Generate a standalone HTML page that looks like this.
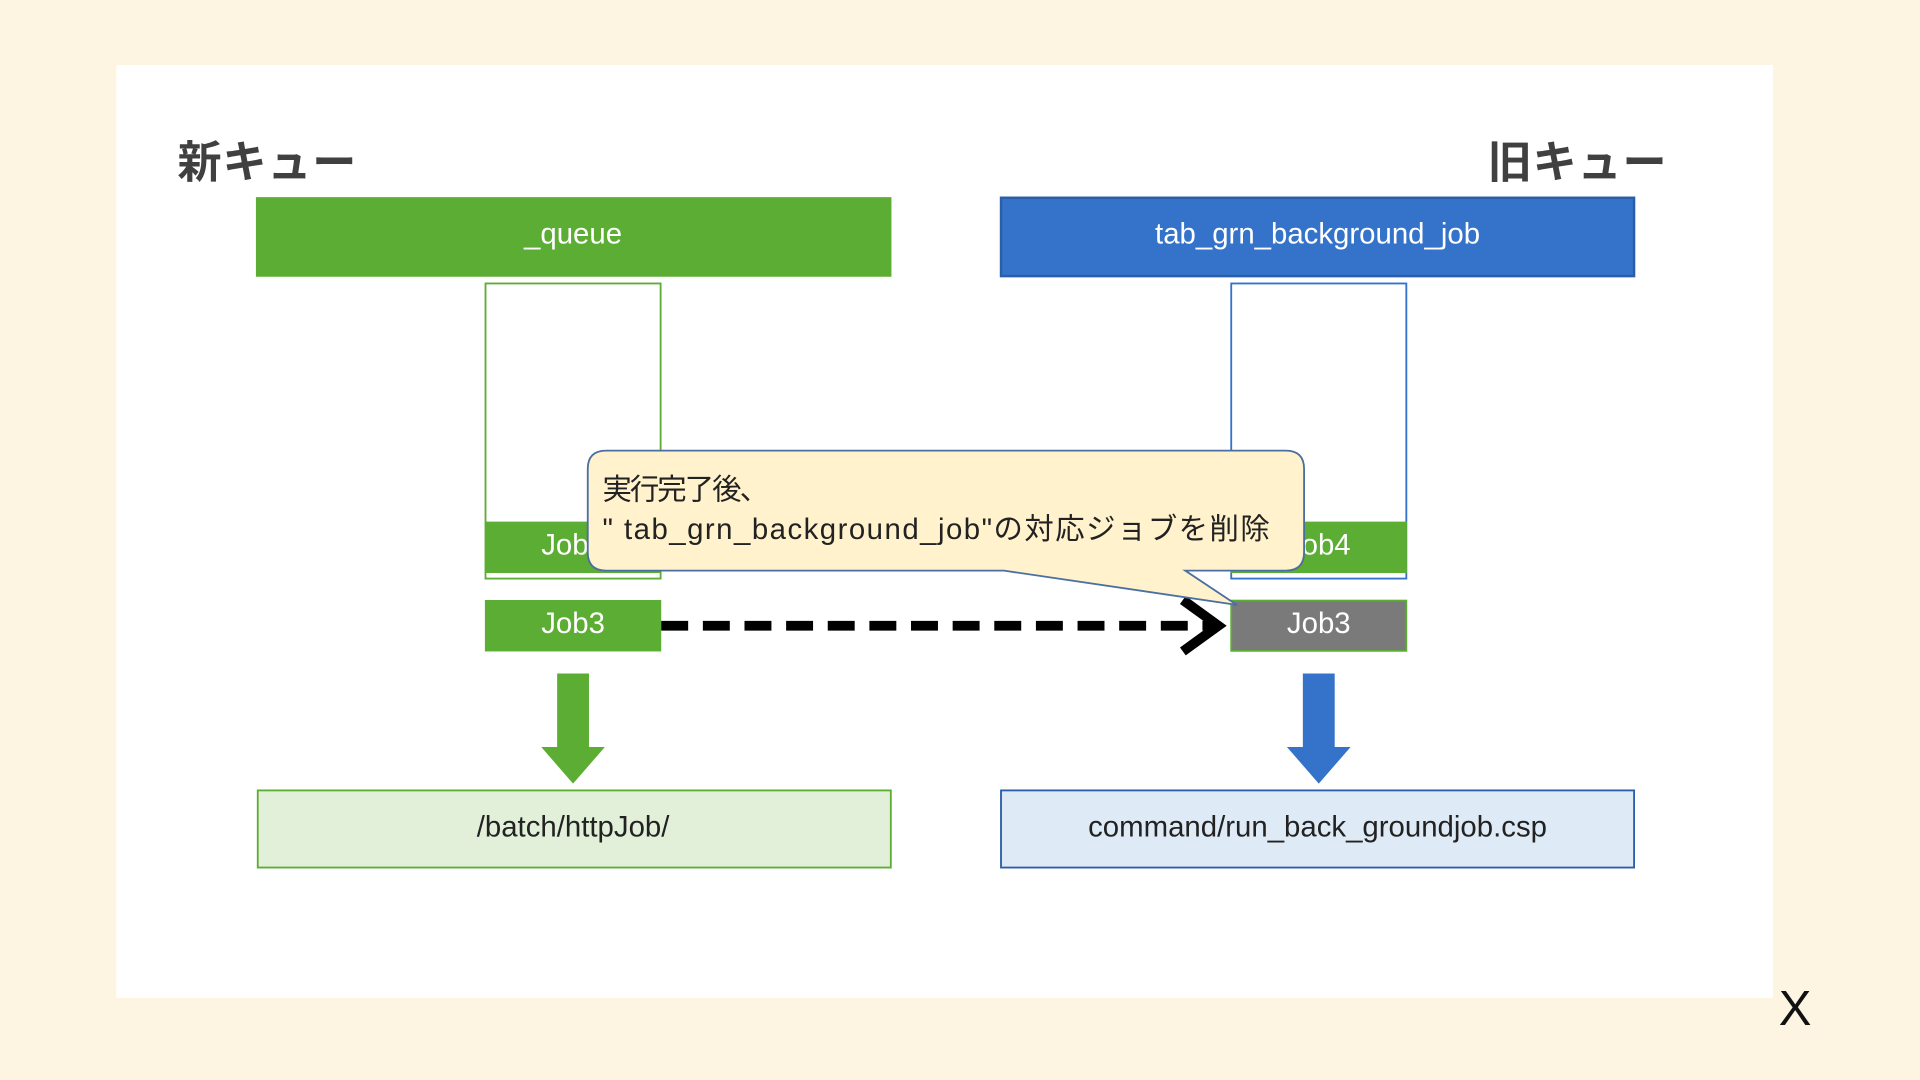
<!DOCTYPE html>
<html><head><meta charset="utf-8"><style>html,body{margin:0;padding:0;background:#fdf4e1;}svg{display:block}</style></head>
<body>
<svg width="1920" height="1080" viewBox="0 0 1568 882" xmlns="http://www.w3.org/2000/svg" font-family="'Liberation Sans','Noto Sans CJK JP',sans-serif">
<rect x="0" y="0" width="1568" height="882" fill="#fdf4e1"/>
<rect x="95" y="53" width="1353" height="762" fill="#ffffff"/>
<text x="145" y="145" font-size="36" font-weight="bold" fill="#404040" textLength="146">新キュー</text>
<text x="1215" y="145" font-size="36" font-weight="bold" fill="#404040" textLength="146">旧キュー</text>
<rect x="209" y="161" width="519" height="65" fill="#5cad33"/>
<text x="468" y="199" font-size="24" fill="#fff" text-anchor="middle">_queue</text>
<rect x="817.5" y="161.5" width="517" height="64" fill="#3473c9" stroke="#2a5ea8" stroke-width="2"/>
<text x="1076" y="199" font-size="24" fill="#fff" text-anchor="middle">tab_grn_background_job</text>
<rect x="396.5" y="231.5" width="143" height="241" fill="#fff" stroke="#5cad33" stroke-width="1.5"/>
<rect x="396" y="426" width="144" height="42" fill="#5cad33"/>
<text x="468" y="453" font-size="24" fill="#fff" text-anchor="middle">Job4</text>
<rect x="1005.5" y="231.5" width="143" height="241" fill="#fff" stroke="#3473c9" stroke-width="1.5"/>
<rect x="1005" y="426" width="144" height="42" fill="#5cad33"/>
<text x="1077" y="453" font-size="24" fill="#fff" text-anchor="middle">Job4</text>
<rect x="396" y="490" width="144" height="42" fill="#5cad33"/>
<text x="468" y="517" font-size="24" fill="#fff" text-anchor="middle">Job3</text>
<rect x="1005.5" y="490.5" width="143" height="41" fill="#7a7a7a" stroke="#5cad33" stroke-width="1.5"/>
<text x="1077" y="517" font-size="24" fill="#fff" text-anchor="middle">Job3</text>
<line x1="540" y1="511" x2="990" y2="511" stroke="#000" stroke-width="8" stroke-dasharray="22,12"/>
<polyline points="966,490 995,511 966,532" fill="none" stroke="#000" stroke-width="8" stroke-linejoin="miter"/>
<path d="M495,368 H1050 Q1065,368 1065,383 V451 Q1065,466 1050,466 H968 L1010,494 L820,466 H495 Q480,466 480,451 V383 Q480,368 495,368 Z" fill="#fff2cc" stroke="#4a6fa0" stroke-width="1.5"/>
<text x="492" y="408" font-size="24" fill="#222" textLength="136">実行完了後、</text>
<text x="492" y="440" font-size="24" fill="#222" textLength="545">" tab_grn_background_job"の対応ジョブを削除</text>
<polygon points="455,550 481,550 481,610 494,610 468,640 442,610 455,610" fill="#5cad33"/>
<polygon points="1064,550 1090,550 1090,610 1103,610 1077,640 1051,610 1064,610" fill="#3473c9"/>
<rect x="210.5" y="645.5" width="517" height="63" fill="#e2f0d9" stroke="#5cad33" stroke-width="1.5"/>
<text x="468" y="683" font-size="24" fill="#222" text-anchor="middle">/batch/httpJob/</text>
<rect x="817.5" y="645.5" width="517" height="63" fill="#deebf7" stroke="#2a5ea8" stroke-width="1.5"/>
<text x="1076" y="683" font-size="24" fill="#222" text-anchor="middle">command/run_back_groundjob.csp</text>
<text x="1466" y="837" font-size="40" fill="#111" text-anchor="middle">X</text>
</svg>
</body></html>
